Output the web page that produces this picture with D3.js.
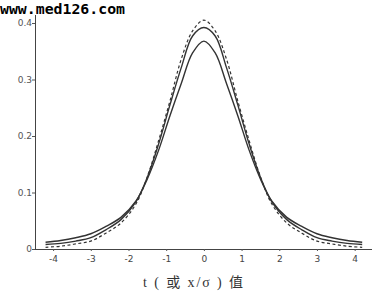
<!DOCTYPE html>
<html><head><meta charset="utf-8">
<script src="https://cdn.jsdelivr.net/npm/d3@7"></script>
<style>body{margin:0;background:#fff}svg{display:block}</style>
</head><body>
<svg id="c" width="381" height="298"></svg>
<script>
// x positions (t values)
const xs = [-4.2,-3.8,-3.4,-3.0,-2.6,-2.2,-1.8,-1.5,-1.2,-0.9,-0.6,-0.3,0,0.3,0.6,0.9,1.2,1.5,1.8,2.2,2.6,3.0,3.4,3.8,4.2];
// normal curve (dashed)
const normalY = [0.003,0.005,0.009,0.014,0.028,0.046,0.080,0.128,0.192,0.262,0.336,0.386,0.405,0.386,0.336,0.262,0.192,0.128,0.080,0.046,0.028,0.014,0.009,0.005,0.003];
// t curve, larger df (middle solid)
const tHighY = [0.008,0.010,0.014,0.020,0.034,0.052,0.084,0.127,0.186,0.255,0.321,0.377,0.392,0.377,0.321,0.255,0.186,0.127,0.084,0.052,0.034,0.020,0.014,0.010,0.008];
// t curve, small df (lowest peak, solid)
const tLowY = [0.012,0.015,0.020,0.027,0.040,0.056,0.085,0.124,0.175,0.236,0.293,0.347,0.368,0.347,0.293,0.236,0.175,0.124,0.085,0.056,0.040,0.027,0.020,0.015,0.012];
const xTicks = [-4,-3,-2,-1,0,1,2,3,4];
const yTicks = [0,0.1,0.2,0.3,0.4];

const svg = d3.select("#c");
const x = d3.scaleLinear().domain([-4.48,4.46]).range([35,372]);
const y = d3.scaleLinear().domain([0,0.4]).range([249,23]);

// watermark
svg.append("text").attr("x",0).attr("y",14).attr("textLength",125).attr("lengthAdjust","spacingAndGlyphs")
  .style("font-family","'DejaVu Sans Mono',monospace").style("font-weight","bold").style("font-size","14px")
  .attr("fill","#000").text("www.med126.com");

// axes
const xAxis = d3.axisBottom(x).tickValues(xTicks).tickSize(2).tickFormat(d=>d===0?"0":d3.format("d")(d).replace("−","-"));
const gx = svg.append("g").attr("transform","translate(0,249)").call(xAxis);
gx.select(".domain").attr("stroke","#444").attr("d","M35,0.5H372");
gx.selectAll(".tick line").attr("stroke","#555");
gx.selectAll(".tick text").attr("fill","#444").style("font-size","9px").style("font-family","'DejaVu Sans',sans-serif").attr("dy","0.9em");

const yAxis = d3.axisLeft(y).tickValues(yTicks).tickSize(3).tickFormat(d=>d===0?"0":d3.format(".1f")(d));
const gy = svg.append("g").attr("transform","translate(35,0)").call(yAxis);
gy.select(".domain").attr("stroke","#444").attr("d","M0.5,249V15");
gy.selectAll(".tick line").attr("stroke","#555");
gy.selectAll(".tick text").attr("fill","#555").style("font-size","9px").style("font-family","'DejaVu Sans',sans-serif").attr("x",-3);

const line = d3.line().x((d,i)=>x(xs[i])).y(d=>y(d)).curve(d3.curveCatmullRom.alpha(0.5));
svg.append("path").attr("d",line(normalY)).attr("fill","none").attr("stroke","#333").attr("stroke-width",1.2).attr("stroke-dasharray","3,2.5");
svg.append("path").attr("d",line(tHighY)).attr("fill","none").attr("stroke","#333").attr("stroke-width",1.4);
svg.append("path").attr("d",line(tLowY)).attr("fill","none").attr("stroke","#333").attr("stroke-width",1.4);

// x title
svg.append("text").attr("x",143).attr("y",287).attr("textLength",100).attr("lengthAdjust","spacing")
  .style("font-family","'Liberation Serif','Noto Sans CJK SC',serif").style("font-size","14px").attr("fill","#333")
  .text("t ( 或 x/σ ) 值");
</script>
</body></html>
